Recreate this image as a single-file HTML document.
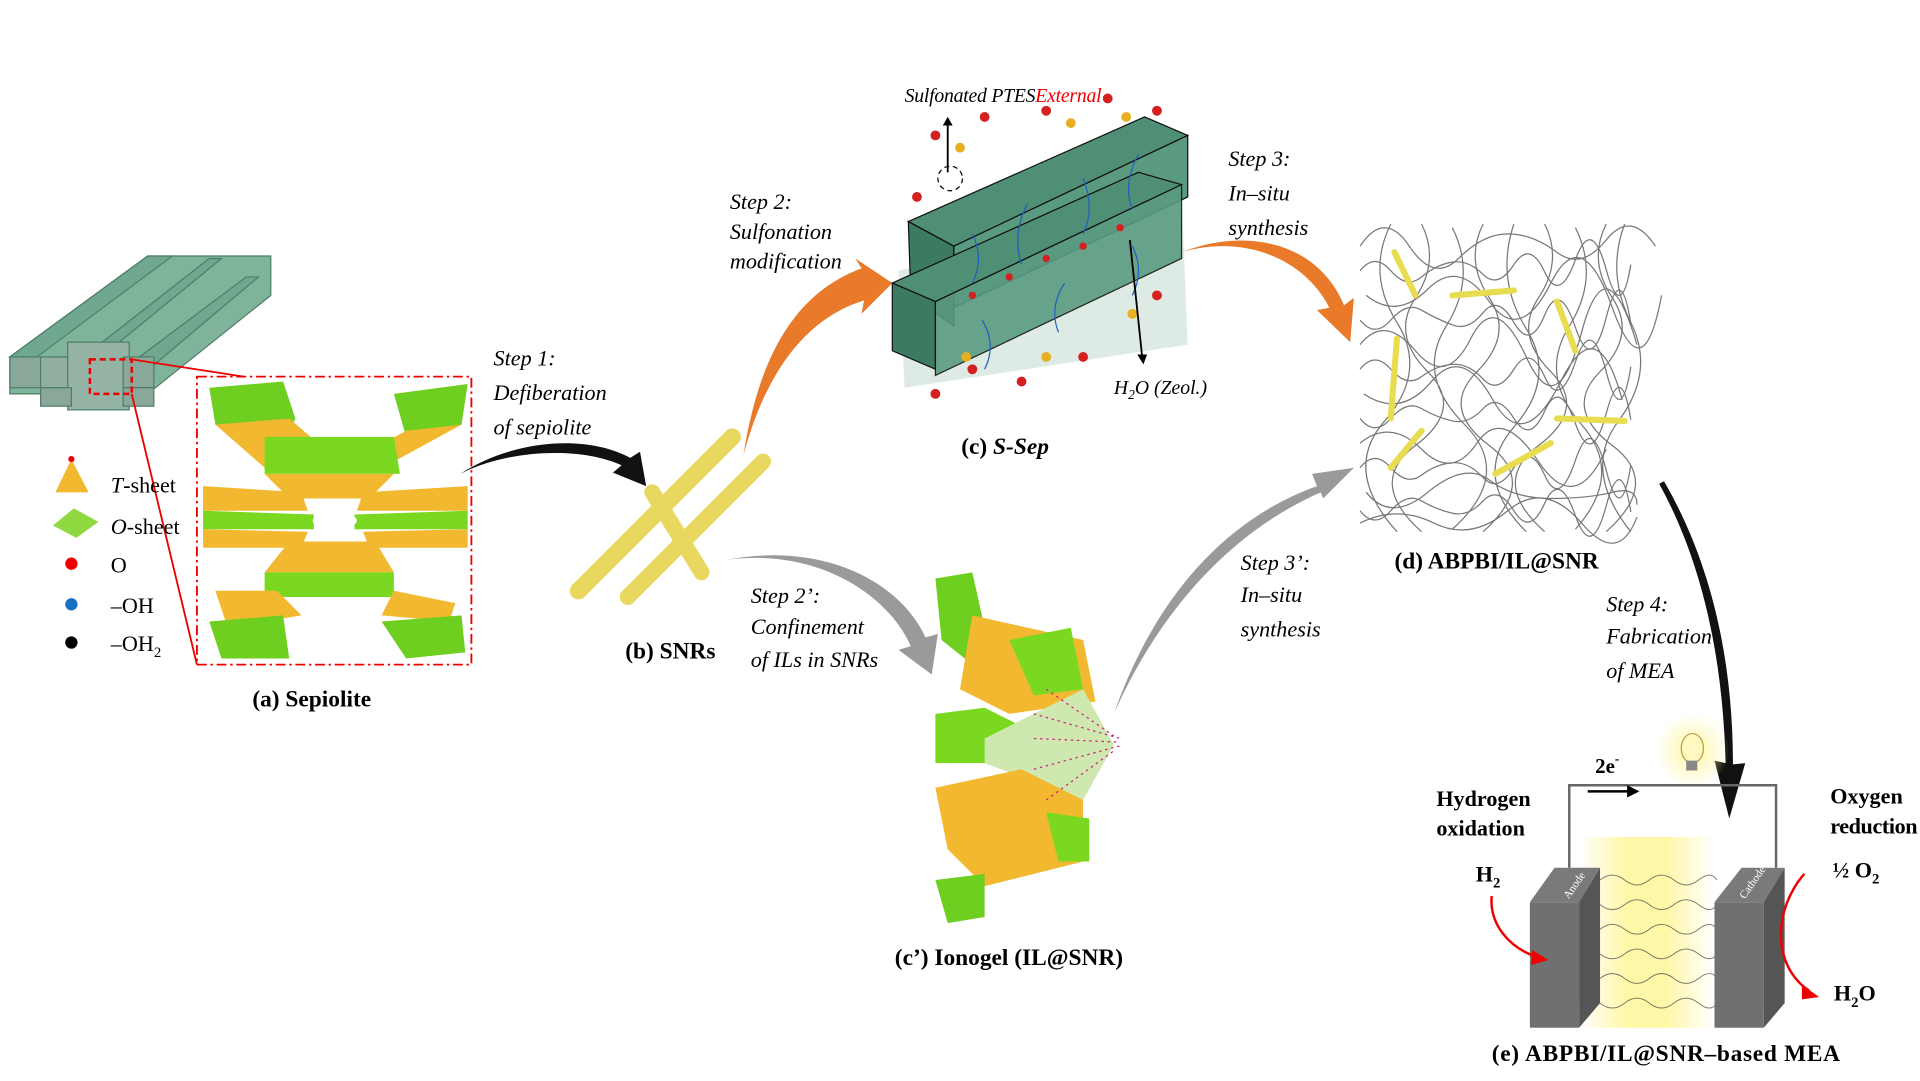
<!DOCTYPE html>
<html><head><meta charset="utf-8"><style>
html,body{margin:0;padding:0;background:#fff;width:1920px;height:1080px;overflow:hidden}
#w{position:absolute;left:0;top:0;width:1560px;height:878px;transform:scale(1.2308);transform-origin:0 0}
svg{position:absolute;left:0;top:0}
text{font-family:"Liberation Serif",serif}
.i{font-style:italic;font-size:18px}
.b{font-weight:bold;font-size:19px}
</style></head><body><div id="w">
<svg width="1560" height="878" viewBox="0 0 1560 878">
<defs>
<linearGradient id="gy" x1="0" x2="1"><stop offset="0" stop-color="#fff"/><stop offset=".35" stop-color="#fff7a8"/><stop offset=".65" stop-color="#fff7a8"/><stop offset="1" stop-color="#fff"/></linearGradient>
<radialGradient id="gl"><stop offset="0" stop-color="#fff6a0"/><stop offset="1" stop-color="#fff6a0" stop-opacity="0"/></radialGradient>
</defs>
<g fill="#6fa88e" stroke="#4e7e68" stroke-width="1">
<polygon points="8,290 120,208 220,208 220,240 120,320 8,320" fill="#7fb49b"/>
<polygon points="8,290 30,290 140,208 120,208"/>
<polygon points="55,300 170,210 180,210 70,300"/>
<polygon points="100,300 200,225 210,225 115,305"/>
<rect x="8" y="290" width="25" height="25" fill="#8aa89a"/>
<rect x="33" y="290" width="25" height="25" fill="#92b0a2"/>
<rect x="55" y="278" width="50" height="55" fill="#96b4a5"/>
<rect x="100" y="290" width="25" height="25" fill="#8aa89a"/>
<rect x="33" y="315" width="25" height="15" fill="#8aa89a"/>
<rect x="100" y="315" width="25" height="15" fill="#8aa89a"/>
</g>
<rect x="73" y="292" width="34" height="28" fill="none" stroke="#e00" stroke-width="2" stroke-dasharray="5,3"/>
<line x1="107" y1="292" x2="198" y2="306" stroke="#e00" stroke-width="1.5"/>
<line x1="107" y1="320" x2="160" y2="540" stroke="#e00" stroke-width="1.5"/>
<rect x="160" y="306" width="223" height="234" fill="none" stroke="#e00" stroke-width="1.5" stroke-dasharray="8,3,2,3"/>
<g>
<polygon points="170,315 230,310 240,340 230,360 175,345" fill="#6fcf20"/>
<polygon points="320,320 380,312 375,345 330,355" fill="#6fcf20"/>
<polygon points="175,345 235,340 270,370 215,380" fill="#f2b830"/>
<polygon points="330,350 375,345 320,375 290,372" fill="#f2b830"/>
<polygon points="215,355 320,355 325,385 215,385" fill="#7bd820"/>
<polygon points="215,385 320,385 300,405 235,405" fill="#f2b830"/>
<polygon points="165,395 245,400 250,415 165,415" fill="#f2b830"/>
<polygon points="295,400 380,395 380,415 290,415" fill="#f2b830"/>
<polygon points="165,415 255,418 255,430 165,430" fill="#7bd820"/>
<polygon points="288,418 380,415 380,430 288,430" fill="#7bd820"/>
<polygon points="165,430 250,432 245,445 165,445" fill="#f2b830"/>
<polygon points="295,432 380,430 380,445 300,445" fill="#f2b830"/>
<polygon points="235,440 305,440 320,465 215,465" fill="#f2b830"/>
<polygon points="215,465 320,465 320,485 215,485" fill="#7bd820"/>
<polygon points="175,480 225,480 245,500 185,510" fill="#f2b830"/>
<polygon points="320,480 370,490 365,505 310,500" fill="#f2b830"/>
<polygon points="170,505 230,500 235,535 180,535" fill="#6fcf20"/>
<polygon points="310,505 375,500 378,530 330,535" fill="#6fcf20"/>
<ellipse cx="272" cy="423" rx="18" ry="7" fill="#fff"/>
</g>
<polygon points="58,373 45,400 72,400" fill="#f2b830"/><circle cx="58" cy="373" r="2.5" fill="#e00"/>
<polygon points="43,427 60,413 80,424 62,437" fill="#8fd840"/>
<circle cx="58" cy="458" r="5" fill="#e00"/><circle cx="58" cy="491" r="5" fill="#1a70c0"/><circle cx="58" cy="522" r="5" fill="#000"/>
<g font-size="18">
<text x="90" y="400"><tspan font-style="italic">T</tspan>-sheet</text>
<text x="90" y="434"><tspan font-style="italic">O</tspan>-sheet</text>
<text x="90" y="465">O</text>
<text x="90" y="498">–OH</text>
<text x="90" y="529">–OH<tspan font-size="12" dy="5">2</tspan></text>
</g>
<text x="205" y="574" class="b">(a) Sepiolite</text>
<path d="M374,385 C410,366 470,362 505,378 L498,384 L525,395 L520,367 L512,372 C475,352 415,358 374,385Z" fill="#111"/>
<text x="401" y="297" class="i">Step 1:</text>
<text x="401" y="325" class="i">Defiberation</text>
<text x="401" y="353" class="i">of sepiolite</text>
<g stroke="#e8d860" stroke-linecap="round" fill="none">
<line x1="470" y1="480" x2="595" y2="355" stroke-width="14"/>
<line x1="510" y1="485" x2="620" y2="375" stroke-width="13"/>
<line x1="530" y1="400" x2="570" y2="465" stroke-width="13"/>
</g>
<text x="508" y="535" class="b" font-size="18">(b) SNRs</text>
<path d="M604,370 C615,300 640,240 700,218 L695,210 L725,230 L700,255 L702,244 C650,260 620,310 604,370Z" fill="#e87a2a"/>
<text x="593" y="170" class="i">Step 2:</text>
<text x="593" y="194" class="i">Sulfonation</text>
<text x="593" y="218" class="i">modification</text>
<polygon points="730,220 960,160 965,280 735,315" fill="#cfe3d8" opacity=".7"/>
<polygon points="738,180 930,95 965,110 775,200" fill="#4f8f76" stroke="#111"/>
<polygon points="738,180 775,200 775,265 740,240" fill="#3c7a62" stroke="#111"/>
<polygon points="775,200 965,110 965,160 775,250" fill="#5a9a80" stroke="#111"/>
<polygon points="725,230 925,140 960,150 760,245" fill="#4f8f76" stroke="#111"/>
<polygon points="725,230 760,245 760,300 725,285" fill="#3c7a62" stroke="#111"/>
<polygon points="760,245 960,150 960,210 760,305" fill="#5a9a80" stroke="#111" opacity=".9"/>
<g fill="none" stroke="#2060c0" stroke-width="1">
<path d="M790,230 q10,-20 0,-40 M830,215 q-8,-25 5,-50 M880,190 q10,-20 0,-45 M920,170 q-8,-20 5,-45 M800,300 q10,-20 -2,-40 M860,270 q-8,-20 5,-40 M920,240 q10,-20 0,-40"/>
</g>
<g fill="#d42020">
<circle cx="760" cy="110" r="4"/><circle cx="800" cy="95" r="4"/><circle cx="850" cy="90" r="4"/><circle cx="900" cy="80" r="4"/><circle cx="940" cy="90" r="4"/>
<circle cx="745" cy="160" r="4"/><circle cx="790" cy="300" r="4"/><circle cx="830" cy="310" r="4"/><circle cx="880" cy="290" r="4"/><circle cx="940" cy="240" r="4"/><circle cx="760" cy="320" r="4"/>
<circle cx="820" cy="225" r="3"/><circle cx="850" cy="210" r="3"/><circle cx="880" cy="200" r="3"/><circle cx="910" cy="185" r="3"/><circle cx="790" cy="240" r="3"/>
</g>
<g fill="#e8b020"><circle cx="780" cy="120" r="4"/><circle cx="870" cy="100" r="4"/><circle cx="915" cy="95" r="4"/><circle cx="850" cy="290" r="4"/><circle cx="920" cy="255" r="4"/><circle cx="785" cy="290" r="4"/></g>
<line x1="770" y1="140" x2="770" y2="100" stroke="#000" stroke-width="1.5"/><polygon points="766,102 774,102 770,95" fill="#000"/>
<circle cx="772" cy="145" r="10" fill="none" stroke="#000" stroke-dasharray="4,3"/>
<line x1="918" y1="195" x2="928" y2="290" stroke="#000" stroke-width="1.5"/><polygon points="924,288 932,288 929,296" fill="#000"/>
<text x="735" y="83" font-size="16" font-style="italic" textLength="160">Sulfonated PTES<tspan fill="#e00">External</tspan></text>
<text x="905" y="320" font-size="16" font-style="italic">H<tspan font-size="11" dy="4">2</tspan><tspan dy="-4">O (Zeol.)</tspan></text>
<text x="781" y="369" class="b" font-size="21">(c) <tspan font-style="italic">S-Sep</tspan></text>
<path d="M960,205 C1010,190 1060,210 1080,250 L1070,252 L1097,278 L1100,242 L1092,248 C1070,195 1010,185 960,205Z" fill="#e87a2a"/>
<text x="998" y="135" class="i">Step 3:</text>
<text x="998" y="163" class="i">In–situ</text>
<text x="998" y="191" class="i">synthesis</text>
<g fill="none" stroke="#777" stroke-width="1">
<path d="M1105,200 q20,-30 40,0 t40,10 t40,-20 t40,15 t40,-10 t40,5 M1110,240 q25,20 50,-5 t50,10 t50,-15 t50,20 t40,-10 M1105,280 q20,-25 45,5 t45,-10 t45,15 t45,-20 t45,10 M1108,320 q30,20 55,-10 t50,15 t55,-15 t50,15 M1105,360 q25,-20 50,5 t45,-5 t50,15 t55,-10 M1110,400 q20,25 50,0 t50,-10 t50,15 t50,-5 t20,10 M1105,425 q30,-15 60,0 t60,-10 t60,10 t45,-5"/>
<path d="M1105,220 q12,-15 25,0 t25,5 t25,-12 t25,10 t25,-8 t25,6 t25,-10 t25,8 t20,-4 M1105,260 q12,15 25,0 t25,-8 t25,12 t25,-10 t25,8 t25,-6 t25,10 t25,-8 t20,5 M1105,300 q12,-15 25,0 t25,6 t25,-10 t25,12 t25,-8 t25,6 t25,-12 t25,8 t20,-4 M1105,340 q12,15 25,0 t25,-8 t25,10 t25,-10 t25,8 t25,-6 t25,10 t25,-8 t20,5 M1105,380 q12,-15 25,0 t25,6 t25,-10 t25,12 t25,-8 t25,6 t25,-12 t25,8 t20,-4 M1105,415 q12,15 25,0 t25,-8 t25,10 t25,-10 t25,8 t25,-6 t25,10 t25,-8 t20,5"/>
<path d="M1130,182 q-20,40 5,80 t-10,80 t10,90 M1155,182 q15,30 -5,60 t10,60 t-10,60 t5,70 M1180,185 q20,40 -5,80 t15,80 t-10,85 M1205,182 q-15,30 5,60 t-10,60 t10,60 t-5,70 M1230,182 q-15,45 10,85 t-10,80 t10,85 M1255,182 q15,30 -5,60 t10,60 t-10,60 t5,70 M1280,185 q20,40 -5,80 t10,80 t-5,85 M1305,182 q-15,30 5,60 t-10,60 t10,60 t-5,70 M1320,182 q-15,40 5,80 t-10,80 t10,90"/>
</g>
<g stroke="#e8dc50" stroke-width="5" stroke-linecap="round">
<line x1="1133" y1="205" x2="1150" y2="240"/><line x1="1180" y1="240" x2="1230" y2="236"/><line x1="1265" y1="245" x2="1280" y2="285"/>
<line x1="1135" y1="275" x2="1130" y2="340"/><line x1="1265" y1="340" x2="1320" y2="342"/><line x1="1130" y1="380" x2="1155" y2="350"/><line x1="1215" y1="385" x2="1260" y2="360"/>
</g>
<text x="1133" y="462" class="b" font-size="18">(d) ABPBI/IL@SNR</text>
<path d="M590,455 C660,445 720,480 740,525 L730,528 L757,548 L762,515 L752,518 C730,470 665,440 590,455Z" fill="#9a9a9a"/>
<text x="610" y="490" class="i">Step 2’:</text>
<text x="610" y="515" class="i">Confinement</text>
<text x="610" y="542" class="i">of ILs in SNRs</text>
<g>
<polygon points="760,470 790,465 800,510 790,540 765,520" fill="#6fcf20"/>
<polygon points="790,500 880,520 890,570 820,580 780,560" fill="#f2b830"/>
<polygon points="760,580 800,575 830,590 800,620 760,620" fill="#7bd820"/>
<polygon points="800,600 880,560 905,605 880,650 800,620" fill="#cfe8b0"/>
<polygon points="760,640 830,625 880,650 880,700 800,720 770,690" fill="#f2b830"/>
<polygon points="760,715 800,710 800,745 770,750" fill="#6fcf20"/>
<polygon points="850,660 885,665 885,700 860,700" fill="#7bd820"/>
<polygon points="820,520 870,510 880,560 840,565" fill="#7bd820"/>
</g>
<g stroke="#d02080" stroke-width="1" stroke-dasharray="2,3">
<line x1="840" y1="600" x2="910" y2="603"/><line x1="840" y1="580" x2="910" y2="600"/><line x1="840" y1="625" x2="910" y2="606"/><line x1="850" y1="560" x2="905" y2="598"/><line x1="850" y1="650" x2="905" y2="610"/>
</g>
<text x="727" y="784" class="b" font-size="20">(c’) Ionogel (IL@SNR)</text>
<path d="M905,580 C940,480 1000,420 1070,395 L1066,385 L1100,380 L1075,405 L1073,400 C1005,430 945,490 905,580Z" fill="#9a9a9a"/>
<text x="1008" y="463" class="i">Step 3’:</text>
<text x="1008" y="489" class="i">In–situ</text>
<text x="1008" y="517" class="i">synthesis</text>
<path d="M1348,393 C1385,460 1400,540 1402,620 L1393,618 L1405,665 L1418,620 L1408,621 C1408,540 1392,460 1352,391Z" fill="#111"/>
<text x="1305" y="497" class="i">Step 4:</text>
<text x="1305" y="523" class="i">Fabrication</text>
<text x="1305" y="551" class="i">of MEA</text>
<circle cx="1375" cy="610" r="30" fill="url(#gl)"/>
<ellipse cx="1375" cy="608" rx="9" ry="12" fill="#fff8c0" stroke="#b8a040"/>
<rect x="1370" y="618" width="9" height="8" fill="#888"/>
<polyline points="1275,705 1275,638 1443,638 1443,705" fill="none" stroke="#666" stroke-width="2"/>
<line x1="1290" y1="643" x2="1325" y2="643" stroke="#000" stroke-width="2"/><polygon points="1322,638 1332,643 1322,648" fill="#000"/>
<text x="1296" y="628" font-size="17" font-weight="bold">2e<tspan font-size="11" dy="-8">-</tspan></text>
<rect x="1283" y="680" width="110" height="155" fill="url(#gy)"/>
<g fill="none" stroke="#444" stroke-width=".8" opacity=".7">
<path d="M1300,715 q10,-8 20,0 t20,0 t20,0 t20,0 t15,0 M1300,735 q10,8 20,0 t20,0 t20,0 t20,0 t15,0 M1300,755 q10,-8 20,0 t20,0 t20,0 t20,0 t15,0 M1300,775 q10,8 20,0 t20,0 t20,0 t20,0 t15,0 M1300,795 q10,-8 20,0 t20,0 t20,0 t20,0 t15,0 M1300,815 q10,8 20,0 t20,0 t20,0 t20,0 t15,0"/>
</g>
<polygon points="1243,733 1263,705 1300,705 1283,733" fill="#7a7a7a"/>
<rect x="1243" y="733" width="40" height="102" fill="#707070"/>
<polygon points="1393,733 1415,705 1450,705 1433,733" fill="#7a7a7a"/>
<rect x="1393" y="733" width="40" height="102" fill="#707070"/>
<polygon points="1433,733 1450,705 1450,815 1433,835" fill="#555"/>
<polygon points="1283,733 1300,705 1300,815 1283,835" fill="#555"/>
<text x="1270" y="728" font-size="9" fill="#fff" transform="rotate(-55 1275 725)">Anode</text>
<text x="1413" y="728" font-size="9" fill="#fff" transform="rotate(-55 1418 725)">Cathode</text>
<g font-size="18" font-weight="bold">
<text x="1167" y="655">Hydrogen</text><text x="1167" y="679">oxidation</text>
<text x="1487" y="653">Oxygen</text><text x="1487" y="677" textLength="71">reduction</text>
<text x="1199" y="716">H<tspan font-size="12" dy="5">2</tspan></text>
<text x="1489" y="713">½ O<tspan font-size="12" dy="5">2</tspan></text>
<text x="1490" y="813">H<tspan font-size="12" dy="5">2</tspan><tspan dy="-5">O</tspan></text>
</g>
<path d="M1212,728 C1210,750 1225,770 1250,778" fill="none" stroke="#e00" stroke-width="2"/><polygon points="1245,772 1258,780 1244,784" fill="#e00"/>
<path d="M1466,710 C1440,740 1440,785 1470,805" fill="none" stroke="#e00" stroke-width="2"/><polygon points="1464,800 1478,810 1464,812" fill="#e00"/>
<text x="1212" y="862" class="b" font-size="18" textLength="283">(e) ABPBI/IL@SNR–based MEA</text>
</svg>
</div></body></html>
